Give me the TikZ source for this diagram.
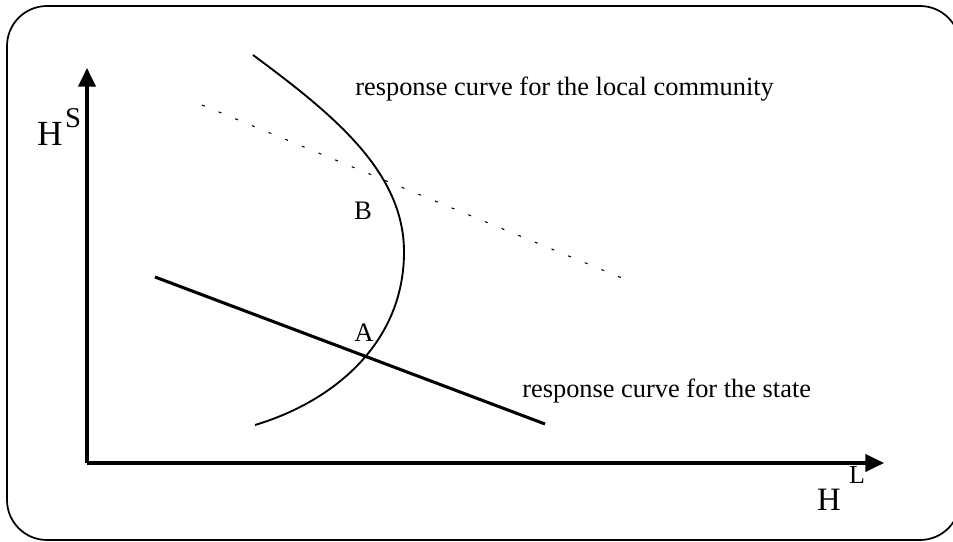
\documentclass[tikz,border=0pt]{standalone}
\usepackage{fontspec}
\setmainfont{Liberation Serif}
\usetikzlibrary{arrows.meta}
\tikzset{
  axis/.style={line width=2.4pt, -{Triangle[length=14pt,width=13pt]}},
  curvelbl/.style={font=\fontsize{19.8}{22}\selectfont, inner sep=0pt, anchor=base west},
  ptlbl/.style={font=\fontsize{20}{22}\selectfont, inner sep=0pt},
  axlbl/.style={font=\fontsize{26.5}{28}\selectfont, inner sep=0pt},
  axsup/.style={font=\fontsize{21.5}{23}\selectfont, inner sep=0pt},
}
\begin{document}
\begin{tikzpicture}[x=0.75pt, y=-0.75pt]
  \useasboundingbox (0,0) rectangle (953,542);
  % frame
  \draw[line width=1.3pt, rounded corners=30pt] (7,6) rectangle (960,540);
  % axes
  \coordinate (orig) at (87,463);
  \coordinate (ytip) at (87,68);
  \coordinate (xtip) at (884,463);
  \draw[axis] (orig) -- (ytip);
  \draw[axis] (orig) -- (xtip);
  \node[axlbl] (hS) at (50,134) {H};
  \node[axsup] (hSsup) at (73,118) {S};
  \node[axlbl, font=\fontsize{24.5}{26}\selectfont] (hL) at (829,500) {H};
  \node[axsup, font=\fontsize{19.5}{21}\selectfont] (hLsup) at (857,475) {L};
  % response curves
  \coordinate (st1) at (155,277);
  \coordinate (st2) at (545,424);
  \draw[line width=2.3pt] (st1) -- (st2);
  \coordinate (dl1) at (202,105);
  \coordinate (dl2) at (622,278);
  \draw[line width=0.8pt, dash pattern=on 2.2pt off 11.3pt] (dl1) -- (dl2);
  \coordinate (lc1) at (253,55);
  \coordinate (lc2) at (404,252);
  \coordinate (lc3) at (255,425);
  \draw[line width=1.4pt] (lc1) .. controls (334,115) and (404,172) .. (lc2)
    .. controls (404,342) and (335,401) .. (lc3);
  \node[ptlbl] (ptB) at (363,211) {B};
  \node[ptlbl] (ptA) at (364,333) {A};
  \node[curvelbl] (lblLocal) at (355,95) {response curve for the local community};
  \node[curvelbl] (lblState) at (522,397) {response curve for the state};
\end{tikzpicture}
\end{document}
